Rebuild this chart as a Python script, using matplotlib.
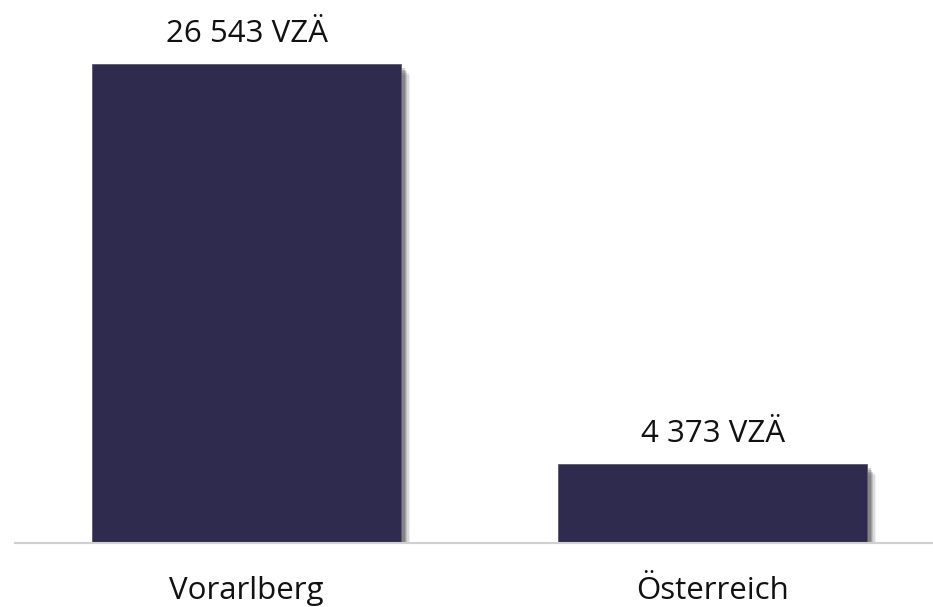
import matplotlib
matplotlib.use("Agg")
import matplotlib.pyplot as plt
import matplotlib.patheffects as pe

regions = ["Vorarlberg", "Österreich"]
vza = [26543, 4373]
value_labels = ["26 543 VZÄ", "4 373 VZÄ"]

plt.rcParams["font.family"] = ["Open Sans", "DejaVu Sans"]

fig = plt.figure(figsize=(9.33, 6.07), dpi=100)
ax = fig.add_axes([15 / 933, 1 - 543 / 607, 918 / 933, 543 / 607])

x = list(range(len(regions)))
# soft drop shadow built from a few offset layers
shadow = [
    pe.SimplePatchShadow(offset=(o, -1.2 * o), shadow_rgbFace="#000000", alpha=a)
    for o, a in [(6.5, 0.06), (5.5, 0.09), (4.5, 0.12), (3.5, 0.15), (2.5, 0.18)]
]
bars = ax.bar(x, vza, width=0.663, color="#2E2B4F", edgecolor="#5A5875", linewidth=0.6, zorder=3)
for b in bars:
    b.set_path_effects(shadow + [pe.Normal()])

for xi, v, lab in zip(x, vza, value_labels):
    ax.annotate(lab, (xi, v), xytext=(0, 16), textcoords="offset points",
                ha="center", va="baseline", fontsize=22.5, color="#111111")

ax.set_xlim(-0.497, 1.473)
ax.set_ylim(0, 30089)
ax.set_xticks(x)
ax.set_xticklabels(regions, fontsize=22.5, color="#111111")
ax.tick_params(axis="x", length=0, pad=24)
ax.set_yticks([])
for s in ["top", "right", "left"]:
    ax.spines[s].set_visible(False)
ax.spines["bottom"].set_color("#D0D0D0")
ax.spines["bottom"].set_linewidth(1.5)
ax.spines["bottom"].set_zorder(4)

fig.savefig("out.png", dpi=100)
